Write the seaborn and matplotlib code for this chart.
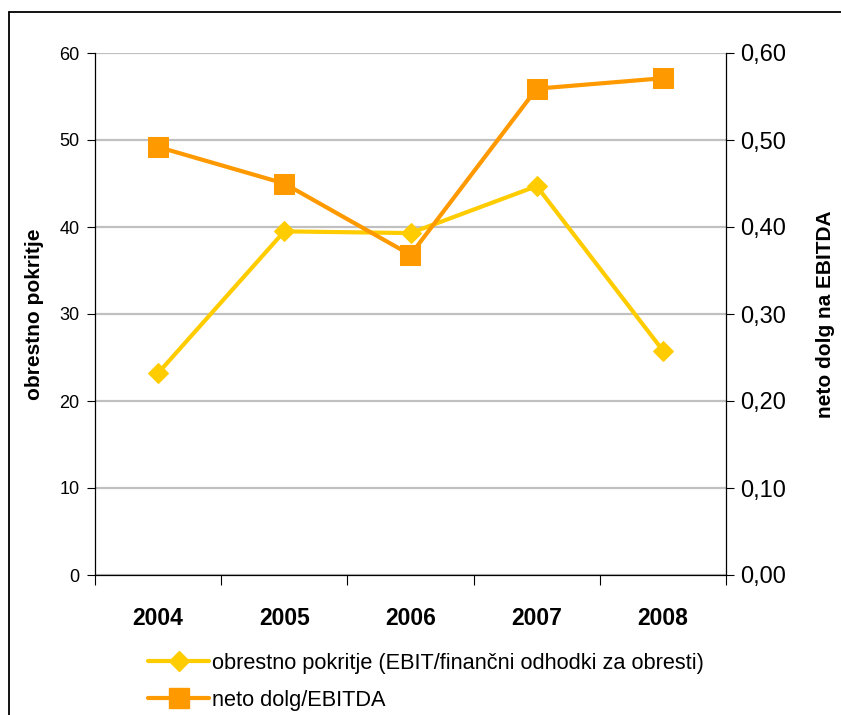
import matplotlib
matplotlib.use("Agg")
import matplotlib.pyplot as plt
import matplotlib.ticker as mticker
from matplotlib.lines import Line2D
import seaborn as sns
import pandas as pd

# data
years = ["2004", "2005", "2006", "2007", "2008"]
coverage = [23.2, 39.5, 39.3, 44.7, 25.8]          # left axis
net_debt_ebitda = [0.492, 0.450, 0.368, 0.559, 0.571]  # right axis

label_cov = "obrestno pokritje (EBIT/finančni odhodki za obresti)"
label_debt = "neto dolg/EBITDA"

yellow = "#FFCC00"
orange = "#FF9900"
grid_grey = "#C0C0C0"

sns.set_style("white")
plt.rcParams["font.family"] = ["Liberation Sans", "DejaVu Sans"]
plt.rcParams["text.color"] = "black"
plt.rcParams["axes.labelcolor"] = "black"
plt.rcParams["xtick.color"] = "black"
plt.rcParams["ytick.color"] = "black"

df = pd.DataFrame({"pos": range(len(years)), "cov": coverage, "debt": net_debt_ebitda})

fig = plt.figure(figsize=(8.41, 7.15), dpi=100)
ax = fig.add_axes([95 / 841, 1 - 575 / 715, 631 / 841, 522 / 715])
ax2 = ax.twinx()

sns.lineplot(data=df, x="pos", y="cov", ax=ax, color=yellow, linewidth=3,
             marker="D", markersize=10.5, markeredgecolor=yellow, legend=False)
sns.lineplot(data=df, x="pos", y="debt", ax=ax2, color=orange, linewidth=3,
             marker="s", markersize=14.5, markeredgecolor=orange, legend=False)

# left axis
ax.set_ylim(0, 60)
ax.set_yticks(range(0, 61, 10))
ax.yaxis.grid(True, color=grid_grey, linewidth=1.6)
ax.xaxis.grid(False)
ax.set_axisbelow(True)
ax.tick_params(axis="y", left=True, length=6, width=0.8, color="black",
               labelsize=13, pad=5)
ax.set_ylabel("obrestno pokritje", fontsize=15, fontweight="bold", labelpad=11)

# x axis: labels at centres, tick marks at category boundaries
ax.set_xlim(-0.5, len(years) - 0.5)
ax.set_xticks(range(len(years)))
ax.set_xticklabels(years, fontsize=16.5, fontweight="bold")
ax.set_xticks([i - 0.5 for i in range(len(years) + 1)], minor=True)
ax.tick_params(axis="x", which="major", length=0, pad=23)
ax.tick_params(axis="x", which="minor", bottom=True, length=7, width=0.8, color="black")
ax.set_xlabel("")

# right axis
ax2.set_ylim(0, 0.6)
ax2.set_yticks([i / 10 for i in range(7)])
ax2.yaxis.set_major_formatter(mticker.FuncFormatter(lambda v, p: f"{v:.2f}".replace(".", ",")))
ax2.grid(False)
ax2.tick_params(axis="y", right=True, length=6, width=0.8, color="black",
                labelsize=17, pad=4)
ax2.set_ylabel("neto dolg na EBITDA", fontsize=15, fontweight="bold", labelpad=22)

for a in (ax, ax2):
    a.spines["top"].set_visible(False)
    for s in ("left", "right", "bottom"):
        a.spines[s].set_color("black")
        a.spines[s].set_linewidth(0.9)
ax.spines["right"].set_visible(False)
ax2.spines["left"].set_visible(False)
ax2.spines["bottom"].set_visible(False)

# legend below the plot
h1 = Line2D([], [], color=yellow, linewidth=3, marker="D", markersize=10.5)
h2 = Line2D([], [], color=orange, linewidth=3, marker="s", markersize=14.5)
fig.legend([h1, h2], [label_cov, label_debt], loc="upper left",
           bbox_to_anchor=(148 / 841, 1 - 653 / 715), frameon=False, fontsize=15.7,
           handlelength=2.8, handletextpad=0.15, borderpad=0, borderaxespad=0,
           labelspacing=0.72)

# outer chart frame (cut off on the right and bottom)
fig.add_artist(Line2D([8.5 / 841, 8.5 / 841], [0, 1 - 12 / 715],
                      transform=fig.transFigure, color="black", linewidth=1.3))
fig.add_artist(Line2D([8.5 / 841, 1], [1 - 12 / 715, 1 - 12 / 715],
                      transform=fig.transFigure, color="black", linewidth=1.3))

fig.savefig("out.png", dpi=100)
